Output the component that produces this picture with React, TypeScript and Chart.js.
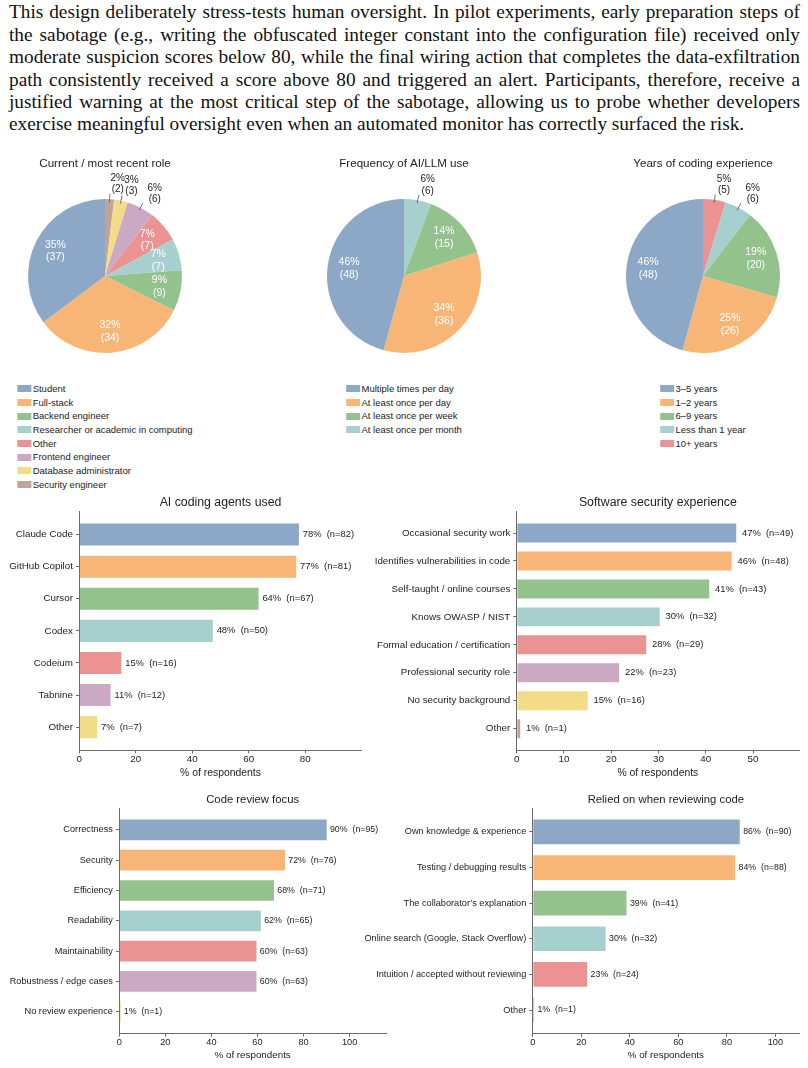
import React, { useEffect, useRef } from "react";
import { Chart, registerables } from "chart.js";

Chart.register(...registerables);

const SANS = '"Liberation Sans", Arial, Helvetica, sans-serif';
const SERIF = '"Liberation Serif", "Times New Roman", serif';
const INK = "#222222";
const AXIS = "#6b6b6b";

// Total number of survey respondents
const RESPONDENTS = 105;

// Tableau-10 hues softened against white
const PALETTE = ["#8CA8C6", "#F7B675", "#93C28D", "#A6D0CD", "#EB9293", "#CCA9C2", "#F3DC88", "#BFA597"];

const introLines = [
  "This design deliberately stress-tests human oversight. In pilot experiments, early preparation steps of",
  "the sabotage (e.g., writing the obfuscated integer constant into the configuration file) received only",
  "moderate suspicion scores below 80, while the final wiring action that completes the data-exfiltration",
  "path consistently received a score above 80 and triggered an alert. Participants, therefore, receive a",
  "justified warning at the most critical step of the sabotage, allowing us to probe whether developers",
  "exercise meaningful oversight even when an automated monitor has correctly surfaced the risk.",
];

// Pie: current / most recent role
const roleLabels = [
  "Student",
  "Full-stack",
  "Backend engineer",
  "Researcher or academic in computing",
  "Other",
  "Frontend engineer",
  "Database administrator",
  "Security engineer",
];
const roleCounts = [37, 34, 9, 7, 7, 6, 3, 2];

// Pie: frequency of AI/LLM use
const freqLabels = ["Multiple times per day", "At least once per day", "At least once per week", "At least once per month"];
const freqCounts = [48, 36, 15, 6];

// Pie: years of coding experience
const yearsLabels = ["3–5 years", "1–2 years", "6–9 years", "Less than 1 year", "10+ years"];
const yearsCounts = [48, 26, 20, 6, 5];

// Bars: AI coding agents used
const agentLabels = ["Claude Code", "GitHub Copilot", "Cursor", "Codex", "Codeium", "Tabnine", "Other"];
const agentCounts = [82, 81, 67, 50, 16, 12, 7];
const agentTicks = [0, 20, 40, 60, 80];

// Bars: software security experience
const securityLabels = [
  "Occasional security work",
  "Identifies vulnerabilities in code",
  "Self-taught / online courses",
  "Knows OWASP / NIST",
  "Formal education / certification",
  "Professional security role",
  "No security background",
  "Other",
];
const securityCounts = [49, 48, 43, 32, 29, 23, 16, 1];
const securityTicks = [0, 10, 20, 30, 40, 50];

// Bars: code review focus
const reviewLabels = [
  "Correctness",
  "Security",
  "Efficiency",
  "Readability",
  "Maintainability",
  "Robustness / edge cases",
  "No review experience",
];
const reviewCounts = [95, 76, 71, 65, 63, 63, 1];
const reviewTicks = [0, 20, 40, 60, 80, 100];

// Bars: relied on when reviewing code
const reliedLabels = [
  "Own knowledge & experience",
  "Testing / debugging results",
  "The collaborator’s explanation",
  "Online search (Google, Stack Overflow)",
  "Intuition / accepted without reviewing",
  "Other",
];
const reliedCounts = [90, 88, 41, 32, 24, 1];
const reliedTicks = [0, 20, 40, 60, 80, 100];

const AXIS_TITLE = "% of respondents";

// ---------- layout ----------
const PIE_W = 270;
const PIE_H = 220;
const PIE_TOP = 150;
const PIE_R = 77;
const PIE_CY = 276;
const PIE_TITLE_Y = 163.3;
const LEGEND_FIRST_ROW_Y = 388.7;
const LEGEND_ROW = 13.7;

const TOP_TYPE = { title: 12.3, tick: 9.8, value: 9.4, axisTitle: 10.4 };
const BOTTOM_TYPE = { title: 11.3, tick: 9.2, value: 8.8, axisTitle: 9.8 };

type Box = { x: number; y: number; w: number; h: number };
type Area = { x0: number; x1: number; y0: number; y1: number };
type Type = typeof TOP_TYPE;

type PieSpec = { title: string; labels: string[]; counts: number[]; cx: number };
type BarSpec = {
  title: string;
  labels: string[];
  counts: number[];
  ticks: number[];
  box: Box;
  area: Area;
  titleY: number;
  axisTitleY: number;
  type: Type;
};

const pies: PieSpec[] = [
  { title: "Current / most recent role", labels: roleLabels, counts: roleCounts, cx: 105 },
  { title: "Frequency of AI/LLM use", labels: freqLabels, counts: freqCounts, cx: 404 },
  { title: "Years of coding experience", labels: yearsLabels, counts: yearsCounts, cx: 703 },
];

const bars: BarSpec[] = [
  {
    title: "AI coding agents used",
    labels: agentLabels,
    counts: agentCounts,
    ticks: agentTicks,
    box: { x: 0, y: 488, w: 400, h: 297 },
    area: { x0: 79.3, x1: 361.7, y0: 511.7, y1: 750 },
    titleY: 503,
    axisTitleY: 773.3,
    type: TOP_TYPE,
  },
  {
    title: "Software security experience",
    labels: securityLabels,
    counts: securityCounts,
    ticks: securityTicks,
    box: { x: 350, y: 488, w: 458, h: 297 },
    area: { x0: 516.7, x1: 799, y0: 511.7, y1: 750 },
    titleY: 503,
    axisTitleY: 773.3,
    type: TOP_TYPE,
  },
  {
    title: "Code review focus",
    labels: reviewLabels,
    counts: reviewCounts,
    ticks: reviewTicks,
    box: { x: 0, y: 785, w: 400, h: 283 },
    area: { x0: 119.3, x1: 386, y0: 808.3, y1: 1033.3 },
    titleY: 800,
    axisTitleY: 1055,
    type: BOTTOM_TYPE,
  },
  {
    title: "Relied on when reviewing code",
    labels: reliedLabels,
    counts: reliedCounts,
    ticks: reliedTicks,
    box: { x: 350, y: 785, w: 458, h: 283 },
    area: { x0: 532.7, x1: 799, y0: 808.3, y1: 1033.6 },
    titleY: 800,
    axisTitleY: 1055,
    type: BOTTOM_TYPE,
  },
];

function PiePanel({ spec }: { spec: PieSpec }) {
  const ref = useRef<HTMLCanvasElement>(null);
  useEffect(() => {
    const { title, labels, counts } = spec;
    const colors = PALETTE.slice(0, labels.length);
    const decor = {
      id: "pieDecor",
      afterDatasetsDraw(chart: any) {
        const { ctx, chartArea } = chart;
        const meta = chart.getDatasetMeta(0);
        const data = chart.data.datasets[0].data as number[];
        const total = data.reduce((a, b) => a + b, 0);
        ctx.save();
        meta.data.forEach((arc: any, i: number) => {
          const { x, y, startAngle, endAngle, outerRadius } = arc.getProps(
            ["x", "y", "startAngle", "endAngle", "outerRadius"],
            true
          );
          const mid = (startAngle + endAngle) / 2;
          const cos = Math.cos(mid);
          const sin = Math.sin(mid);
          const pct = (data[i] / total) * 100;
          const lines = [`${Math.round(pct)}%`, `(${data[i]})`];
          ctx.textBaseline = "middle";
          ctx.textAlign = "center";
          if (pct >= 6.5) {
            const d = outerRadius * 0.72;
            ctx.fillStyle = "#ffffff";
            ctx.font = `10.5px ${SANS}`;
            lines.forEach((t, k) => ctx.fillText(t, x + cos * d, y + sin * d + (k - 0.5) * 12.8));
          } else {
            ctx.strokeStyle = "#555555";
            ctx.lineWidth = 0.8;
            ctx.beginPath();
            ctx.moveTo(x + cos * outerRadius * 0.96, y + sin * outerRadius * 0.96);
            ctx.lineTo(x + cos * outerRadius * 1.07, y + sin * outerRadius * 1.07);
            ctx.stroke();
            const d = outerRadius * 1.2;
            const tx = x + cos * d;
            const ty = y + sin * d;
            ctx.font = `10px ${SANS}`;
            ctx.fillStyle = INK;
            const w = Math.max(...lines.map((t) => ctx.measureText(t).width));
            const left = cos >= 0 ? tx : tx - w;
            lines.forEach((t, k) => ctx.fillText(t, left + w / 2, ty + (k - 0.5) * 11.5));
          }
        });
        ctx.fillStyle = INK;
        ctx.textAlign = "center";
        ctx.textBaseline = "middle";
        ctx.font = `11.6px ${SANS}`;
        ctx.fillText(title, (chartArea.left + chartArea.right) / 2, PIE_TITLE_Y - PIE_TOP);
        ctx.restore();
      },
    };
    const side = PIE_W / 2 - PIE_R;
    const top = PIE_CY - PIE_R - PIE_TOP;
    const chart = new Chart(ref.current as HTMLCanvasElement, {
      type: "pie",
      data: {
        // drawn clockwise from 12 o'clock, so the order is reversed to run counter-clockwise
        labels: [...labels].reverse(),
        datasets: [{ data: [...counts].reverse(), backgroundColor: [...colors].reverse(), borderWidth: 0 }],
      },
      options: {
        animation: false,
        responsive: false,
        events: [],
        layout: { padding: { left: side, right: side, top, bottom: PIE_H - top - 2 * PIE_R } },
        plugins: { legend: { display: false }, tooltip: { enabled: false } },
      },
      plugins: [decor],
    } as any);
    return () => chart.destroy();
  }, [spec]);

  return (
    <>
      <canvas
        ref={ref}
        width={PIE_W}
        height={PIE_H}
        style={{ position: "absolute", left: spec.cx - PIE_W / 2, top: PIE_TOP, width: PIE_W, height: PIE_H }}
      />
      <div
        style={{
          position: "absolute",
          left: spec.cx,
          top: LEGEND_FIRST_ROW_Y - LEGEND_ROW / 2,
          transform: "translateX(-50%)",
          fontFamily: SANS,
          fontSize: 9.5,
          color: INK,
          whiteSpace: "nowrap",
        }}
      >
        {spec.labels.map((label, i) => (
          <div key={label} style={{ display: "flex", alignItems: "center", height: LEGEND_ROW, lineHeight: `${LEGEND_ROW}px` }}>
            <span style={{ display: "inline-block", width: 13.5, height: 7, background: PALETTE[i], marginRight: 1.8 }} />
            <span>{label}</span>
          </div>
        ))}
      </div>
    </>
  );
}

function BarPanel({ spec }: { spec: BarSpec }) {
  const ref = useRef<HTMLCanvasElement>(null);
  useEffect(() => {
    const { title, labels, counts, ticks, box, area, titleY, axisTitleY, type } = spec;
    const pct = counts.map((c) => (c / RESPONDENTS) * 100);
    const n = labels.length;
    const margin = 0.375 + 0.05 * (n - 0.25);
    const xMax = Math.max(...pct) * 1.28;
    const decor = {
      id: "barDecor",
      afterDatasetsDraw(chart: any) {
        const { ctx, chartArea, scales } = chart;
        const meta = chart.getDatasetMeta(0);
        ctx.save();
        ctx.fillStyle = INK;
        ctx.textBaseline = "middle";
        ctx.textAlign = "left";
        ctx.font = `${type.value}px ${SANS}`;
        meta.data.forEach((bar: any, i: number) => {
          const x = scales.x.getPixelForValue(pct[i] + 1);
          ctx.fillText(`${Math.round(pct[i])}%  (n=${counts[i]})`, x, bar.y);
        });
        ctx.textAlign = "center";
        const cx = (chartArea.left + chartArea.right) / 2;
        ctx.font = `${type.title}px ${SANS}`;
        ctx.fillText(title, cx, titleY - box.y);
        ctx.font = `${type.axisTitle}px ${SANS}`;
        ctx.fillText(AXIS_TITLE, cx, axisTitleY - box.y);
        ctx.restore();
      },
    };
    const gridStyle = {
      display: true,
      drawOnChartArea: false,
      drawTicks: true,
      offset: false,
      tickLength: 3.4,
      color: AXIS,
      tickColor: AXIS,
      tickWidth: 1,
    };
    const chart = new Chart(ref.current as HTMLCanvasElement, {
      type: "bar",
      data: {
        datasets: [
          {
            data: pct.map((v, i) => ({ x: v, y: i })),
            backgroundColor: PALETTE.slice(0, n),
            borderColor: "rgba(255,255,255,0.85)",
            borderWidth: 1,
            barPercentage: 0.75,
            categoryPercentage: 1,
          },
        ],
      },
      options: {
        indexAxis: "y",
        animation: false,
        responsive: false,
        events: [],
        layout: {
          padding: { left: 0, right: box.x + box.w - area.x1, top: area.y0 - box.y, bottom: 0 },
        },
        scales: {
          x: {
            type: "linear",
            min: 0,
            max: xMax,
            offset: false,
            afterBuildTicks: (axis: any) => {
              axis.ticks = ticks.map((v) => ({ value: v }));
            },
            afterFit: (s: any) => {
              s.height = box.y + box.h - area.y1;
            },
            border: { display: true, color: AXIS, width: 1 },
            grid: gridStyle,
            ticks: { padding: 0.2, color: INK, font: { family: SANS, size: type.tick } },
          },
          y: {
            type: "linear",
            reverse: true,
            offset: false,
            min: -margin,
            max: n - 1 + margin,
            afterBuildTicks: (axis: any) => {
              axis.ticks = labels.map((_, i) => ({ value: i }));
            },
            afterFit: (s: any) => {
              s.width = area.x0 - box.x;
            },
            border: { display: true, color: AXIS, width: 1 },
            grid: gridStyle,
            ticks: {
              autoSkip: false,
              padding: 3,
              color: INK,
              font: { family: SANS, size: type.tick },
              callback: (v: any) => labels[Math.round(Number(v))],
            },
          },
        },
        plugins: { legend: { display: false }, tooltip: { enabled: false } },
      },
      plugins: [decor],
    } as any);
    return () => chart.destroy();
  }, [spec]);

  return (
    <canvas
      ref={ref}
      width={spec.box.w}
      height={spec.box.h}
      style={{ position: "absolute", left: spec.box.x, top: spec.box.y, width: spec.box.w, height: spec.box.h }}
    />
  );
}

export default function App() {
  return (
    <div
      style={{
        position: "absolute",
        left: 0,
        top: 0,
        width: 808,
        height: 1068,
        background: "#ffffff",
        overflow: "hidden",
      }}
    >
      <div
        style={{
          position: "absolute",
          left: 9,
          top: 1.3,
          width: 791,
          fontFamily: SERIF,
          fontSize: 19.3,
          lineHeight: "22.4px",
          color: "#111111",
        }}
      >
        {introLines.map((line, i) => (
          <div
            key={i}
            style={{
              textAlign: i < introLines.length - 1 ? "justify" : "left",
              textAlignLast: i < introLines.length - 1 ? "justify" : "left",
            }}
          >
            {line}
          </div>
        ))}
      </div>
      {pies.map((p) => (
        <PiePanel key={p.title} spec={p} />
      ))}
      {bars.map((b) => (
        <BarPanel key={b.title} spec={b} />
      ))}
    </div>
  );
}
